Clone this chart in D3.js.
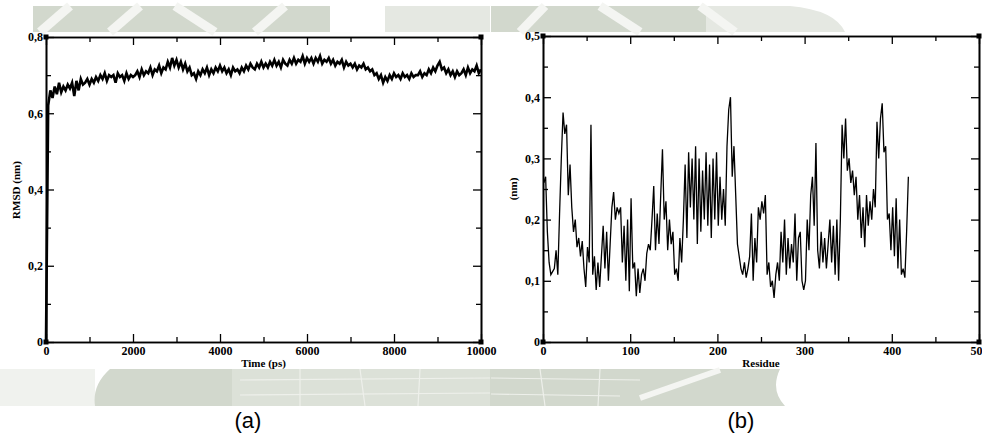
<!DOCTYPE html>
<html>
<head>
<meta charset="utf-8">
<script src="https://cdn.jsdelivr.net/npm/d3@7"></script>
<style>
  body { margin: 0; background: #fff; }
  svg text { font-family: "Liberation Serif", "DejaVu Serif", serif; fill: #000; }
  svg text.caption { font-family: Arial, "Liberation Sans", sans-serif; }
</style>
</head>
<body>
<script>
const W = 982, H = 436

// (a) backbone RMSD over the trajectory, one value every 50 ps
const rmsdTime = d3.range(0, 10001, 50)
const rmsdVal = [0,
  0.62, 0.66, 0.64, 0.67, 0.65, 0.68, 0.655, 0.67, 0.66, 0.675,
  0.665, 0.68, 0.645, 0.685, 0.66, 0.69, 0.675, 0.68, 0.69, 0.675,
  0.69, 0.68, 0.695, 0.685, 0.70, 0.69, 0.705, 0.685, 0.70, 0.695,
  0.70, 0.68, 0.705, 0.695, 0.70, 0.685, 0.705, 0.69, 0.70, 0.695,
  0.70, 0.71, 0.695, 0.715, 0.70, 0.71, 0.705, 0.72, 0.70, 0.715,
  0.71, 0.725, 0.705, 0.72, 0.715, 0.735, 0.72, 0.745, 0.725, 0.74,
  0.72, 0.735, 0.715, 0.73, 0.71, 0.72, 0.70, 0.705, 0.69, 0.71,
  0.70, 0.715, 0.705, 0.72, 0.70, 0.715, 0.705, 0.72, 0.71, 0.725,
  0.71, 0.72, 0.705, 0.715, 0.70, 0.72, 0.71, 0.715, 0.705, 0.72,
  0.71, 0.725, 0.715, 0.73, 0.72, 0.715, 0.73, 0.72, 0.735, 0.72,
  0.73, 0.72, 0.735, 0.725, 0.74, 0.725, 0.735, 0.72, 0.74, 0.73,
  0.725, 0.74, 0.73, 0.745, 0.73, 0.74, 0.735, 0.75, 0.73, 0.745,
  0.735, 0.745, 0.73, 0.745, 0.735, 0.75, 0.73, 0.74, 0.735, 0.745,
  0.73, 0.74, 0.725, 0.735, 0.73, 0.74, 0.72, 0.735, 0.725, 0.73,
  0.72, 0.73, 0.715, 0.725, 0.72, 0.73, 0.715, 0.72, 0.71, 0.715,
  0.70, 0.705, 0.69, 0.70, 0.68, 0.695, 0.685, 0.70, 0.69, 0.705,
  0.695, 0.70, 0.69, 0.705, 0.695, 0.70, 0.69, 0.705, 0.695, 0.70,
  0.70, 0.71, 0.695, 0.705, 0.70, 0.715, 0.705, 0.72, 0.71, 0.725,
  0.735, 0.715, 0.72, 0.705, 0.715, 0.70, 0.71, 0.695, 0.71, 0.70,
  0.705, 0.715, 0.70, 0.72, 0.705, 0.715, 0.71, 0.725, 0.705, 0.715]

// (b) RMSF per residue, every second residue
const residues = d3.range(1, 420, 2)
const rmsfVal = [
  0.26, 0.27, 0.18, 0.13, 0.11, 0.115, 0.12, 0.15, 0.11, 0.21,
  0.30, 0.375, 0.34, 0.355, 0.24, 0.29, 0.22, 0.18, 0.20, 0.155,
  0.17, 0.14, 0.165, 0.12, 0.09, 0.155, 0.13, 0.355, 0.11, 0.14,
  0.085, 0.13, 0.09, 0.14, 0.19, 0.12, 0.18, 0.10, 0.16, 0.22,
  0.245, 0.20, 0.22, 0.21, 0.22, 0.13, 0.19, 0.10, 0.20, 0.083,
  0.235, 0.12, 0.13, 0.075, 0.12, 0.08, 0.11, 0.12, 0.10, 0.145,
  0.16, 0.15, 0.20, 0.255, 0.15, 0.21, 0.16, 0.24, 0.315, 0.20,
  0.23, 0.15, 0.20, 0.16, 0.18, 0.11, 0.12, 0.10, 0.17, 0.13,
  0.20, 0.29, 0.17, 0.31, 0.22, 0.30, 0.20, 0.32, 0.16, 0.30,
  0.18, 0.28, 0.20, 0.31, 0.19, 0.29, 0.17, 0.30, 0.20, 0.31,
  0.19, 0.27, 0.20, 0.25, 0.19, 0.32, 0.38, 0.40, 0.27, 0.32,
  0.24, 0.16, 0.14, 0.12, 0.11, 0.13, 0.105, 0.12, 0.14, 0.21,
  0.10, 0.17, 0.13, 0.22, 0.20, 0.23, 0.21, 0.24, 0.11, 0.13,
  0.09, 0.10, 0.072, 0.11, 0.13, 0.10, 0.18, 0.13, 0.20, 0.11,
  0.17, 0.12, 0.16, 0.13, 0.21, 0.10, 0.17, 0.18, 0.10, 0.085,
  0.10, 0.20, 0.15, 0.24, 0.27, 0.19, 0.325, 0.15, 0.12, 0.18,
  0.13, 0.17, 0.12, 0.16, 0.20, 0.13, 0.19, 0.11, 0.20, 0.10,
  0.20, 0.355, 0.30, 0.365, 0.28, 0.30, 0.26, 0.28, 0.24, 0.27,
  0.20, 0.24, 0.17, 0.22, 0.155, 0.24, 0.19, 0.23, 0.20, 0.25,
  0.22, 0.36, 0.30, 0.365, 0.39, 0.31, 0.32, 0.20, 0.21, 0.15,
  0.22, 0.14, 0.235, 0.12, 0.20, 0.11, 0.12, 0.105, 0.18, 0.27]

const timeMajor = [0, 2000, 4000, 6000, 8000, 10000]
const timeMinor = [1000, 3000, 5000, 7000, 9000]
const rmsdMajor = [0, 0.2, 0.4, 0.6, 0.8]
const rmsdMinor = [0.1, 0.3, 0.5, 0.7]
const resMajor = [0, 100, 200, 300, 400, 500]
const resMinor = [50, 150, 250, 350, 450]
const rmsfMajor = [0, 0.1, 0.2, 0.3, 0.4, 0.5]
const rmsfMinor = [0.05, 0.15, 0.25, 0.35, 0.45]

const svg = d3.select('body').append('svg').attr('width', W).attr('height', H)

// faint page watermark behind the figure
const wm = svg.append('g')
const grey = '#d2d8cd', pale = '#e5e8e2'
wm.append('rect').attr('x', 33).attr('y', 6).attr('width', 297).attr('height', 26).attr('fill', grey)
wm.append('rect').attr('x', 385).attr('y', 6).attr('width', 105).attr('height', 26).attr('fill', pale)
wm.append('rect').attr('x', 491).attr('y', 6).attr('width', 215).attr('height', 26).attr('fill', grey)
wm.append('path').attr('d', 'M706,6 L790,6 Q835,10 845,32 L706,32 Z').attr('fill', pale)
const topStripes = [[40, 32, 70, 6], [110, 32, 140, 6], [175, 6, 215, 32], [255, 32, 285, 6],
  [520, 32, 545, 6], [600, 6, 640, 32], [700, 6, 735, 32]]
wm.selectAll('line.ts').data(topStripes).join('line')
  .attr('x1', d => d[0]).attr('y1', d => d[1]).attr('x2', d => d[2]).attr('y2', d => d[3])
  .attr('stroke', '#f4f5f2').attr('stroke-width', 9)
wm.append('rect').attr('x', 0).attr('y', 369).attr('width', 95).attr('height', 37).attr('fill', '#f0f2ee')
wm.append('path').attr('d', 'M110,369 L780,369 Q770,390 785,406 L95,406 Q92,385 110,369 Z').attr('fill', grey)
wm.append('rect').attr('x', 232).attr('y', 369).attr('width', 258).attr('height', 37).attr('fill', '#dce1d8')
const botLines = [[240, 380, 490, 378], [240, 395, 490, 393], [300, 369, 300, 406], [360, 369, 365, 406],
  [420, 369, 418, 406], [491, 378, 640, 380], [491, 394, 620, 396], [540, 369, 545, 406], [600, 369, 598, 406]]
wm.selectAll('line.bl').data(botLines).join('line')
  .attr('x1', d => d[0]).attr('y1', d => d[1]).attr('x2', d => d[2]).attr('y2', d => d[3])
  .attr('stroke', '#eef0eb').attr('stroke-width', 1.2)
wm.append('line').attr('x1', 640).attr('y1', 398).attr('x2', 720).attr('y2', 370)
  .attr('stroke', '#f4f5f2').attr('stroke-width', 6)

function fmtComma(d) { return d === 0 ? '0' : d3.format('.1f')(d).replace('.', ',') }

function panel(o) {
  const x = d3.scaleLinear().domain(o.xDomain).range([o.left, o.right])
  const y = d3.scaleLinear().domain(o.yDomain).range([o.bottom, o.top])
  const g = svg.append('g')

  g.append('path').datum(o.xs.map((v, i) => [v, o.ys[i]]))
    .attr('fill', 'none').attr('stroke', '#000').attr('stroke-width', o.lineWidth)
    .attr('stroke-linejoin', 'miter')
    .attr('d', d3.line().x(d => x(d[0])).y(d => y(d[1])))

  const put = (axis, tr, vals, size, fmt, pad) => {
    const a = g.append('g').attr('transform', tr)
      .call(axis.tickValues(vals).tickSize(size).tickSizeOuter(0).tickPadding(pad).tickFormat(fmt))
    a.select('.domain').attr('stroke-width', 1.6)
    a.selectAll('.tick line').attr('stroke-width', 1.3)
    a.selectAll('text').attr('font-size', 12).attr('font-weight', 'bold').attr('font-family', null)
    return a
  }
  const none = () => ''
  put(d3.axisBottom(x), `translate(0,${o.bottom})`, o.xMajor, -8, o.xFmt, 4.5)
  put(d3.axisBottom(x), `translate(0,${o.bottom})`, o.xMinor, -5, none, 0)
  put(d3.axisTop(x), `translate(0,${o.top})`, o.xMajor, -8, none, 0)
  put(d3.axisTop(x), `translate(0,${o.top})`, o.xMinor, -5, none, 0)
  put(d3.axisLeft(y), `translate(${o.left},0)`, o.yMajor, -8, fmtComma, 3)
  put(d3.axisLeft(y), `translate(${o.left},0)`, o.yMinor, -5, none, 0)
  put(d3.axisRight(y), `translate(${o.right},0)`, o.yMajor, -8, none, 0)
  put(d3.axisRight(y), `translate(${o.right},0)`, o.yMinor, -5, none, 0)

  // corner markers
  const corners = [[o.left, o.bottom], [o.right, o.bottom], [o.left, o.top], [o.right, o.top]]
  g.selectAll('rect.corner').data(corners).join('rect')
    .attr('x', d => d[0] - 2.5).attr('y', d => d[1] - 2.5).attr('width', 5).attr('height', 5).attr('fill', '#000')

  g.append('text').attr('x', (o.left + o.right) / 2 + o.xLabelShift).attr('y', 367)
    .attr('text-anchor', 'middle').attr('font-size', 11).attr('font-weight', 'bold').text(o.xLabel)
  g.append('text').attr('transform', `translate(${o.yLabelX},${o.yLabelY}) rotate(-90)`)
    .attr('text-anchor', 'middle').attr('font-size', 11).attr('font-weight', 'bold').text(o.yLabel)
  g.append('text').attr('class', 'caption').attr('x', o.captionX).attr('y', 428).attr('text-anchor', 'middle')
    .attr('font-size', 22).text(o.caption)
}

panel({
  xs: rmsdTime, ys: rmsdVal, xDomain: [0, 10000], yDomain: [0, 0.8],
  left: 46, right: 481, top: 37, bottom: 342, lineWidth: 2.6,
  xMajor: timeMajor, xMinor: timeMinor, yMajor: rmsdMajor, yMinor: rmsdMinor,
  xFmt: d3.format('d'), xLabel: 'Time (ps)', xLabelShift: 0,
  yLabel: 'RMSD (nm)', yLabelX: 20, yLabelY: 190, caption: '(a)', captionX: 248
})

panel({
  xs: residues, ys: rmsfVal, xDomain: [0, 500], yDomain: [0, 0.5],
  left: 543, right: 979, top: 36, bottom: 342, lineWidth: 1.3,
  xMajor: resMajor, xMinor: resMinor, yMajor: rmsfMajor, yMinor: rmsfMinor,
  xFmt: d3.format('d'), xLabel: 'Residue', xLabelShift: 0,
  yLabel: '(nm)', yLabelX: 517, yLabelY: 189, caption: '(b)', captionX: 741
})
</script>
</body>
</html>
